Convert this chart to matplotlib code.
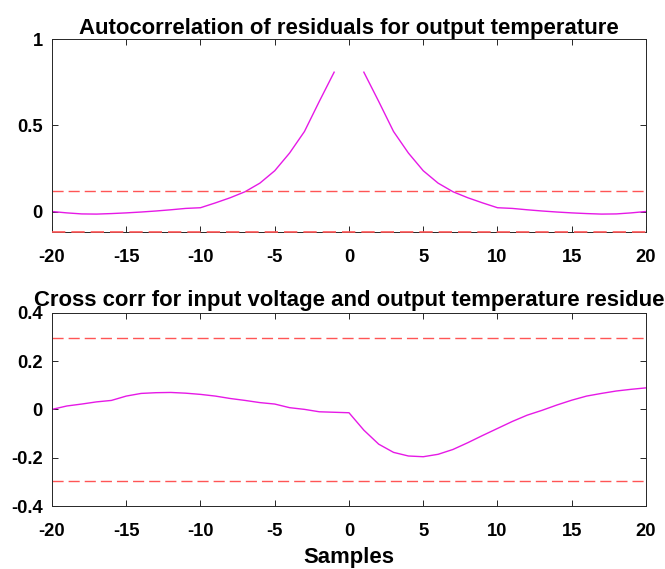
import numpy as np
import matplotlib
matplotlib.use("Agg")
import matplotlib.pyplot as plt

plt.rcParams["font.family"] = ["Liberation Sans", "DejaVu Sans"]
plt.rcParams["font.weight"] = "bold"
plt.rcParams["axes.unicode_minus"] = False

# lags -20..20
lags = np.arange(-20, 21)

# autocorrelation of residuals, lags 1..20 (symmetric, lag 0 not drawn)
acf_pos = [0.81, 0.64, 0.465, 0.34, 0.237, 0.165, 0.115, 0.08, 0.05, 0.022,
           0.018, 0.01, 0.003, -0.003, -0.008, -0.012, -0.015, -0.014, -0.008, 0.0]
acf = np.array(acf_pos[::-1] + [np.nan] + acf_pos)
acf_conf = 0.119

# cross correlation input voltage / output residue, lags -20..20
ccf = [0.0, 0.014, 0.022, 0.031, 0.037, 0.055, 0.066, 0.069, 0.070, 0.067,
       0.062, 0.055, 0.045, 0.037, 0.028, 0.022, 0.007, 0.0, -0.01, -0.012,
       -0.014, -0.086, -0.144, -0.178, -0.193, -0.196, -0.186, -0.166, -0.138, -0.108,
       -0.079, -0.05, -0.024, -0.004, 0.018, 0.038, 0.055, 0.066, 0.076, 0.083,
       0.089]
ccf_conf = 0.297

fig = plt.figure(figsize=(6.65, 5.69), dpi=100)
ax1 = fig.add_axes([0.0782, 0.5923, 0.8932, 0.3383])
ax2 = fig.add_axes([0.0782, 0.1107, 0.8932, 0.3397])

line_col = "#e619e6"
conf_col = "#ff5555"
dash = (0, (8, 3.6))

ax1.plot(lags, acf, color=line_col, lw=1.0)
ax1.axhline(acf_conf, color=conf_col, ls=dash, lw=1.0)
ax1.axhline(-acf_conf, color=conf_col, ls=dash, lw=1.2, clip_on=False, zorder=3)
ax1.set_ylim(-acf_conf, 1)
ax1.set_yticks([0, 0.5, 1])
ax1.set_yticklabels(["0", "0.5", "1"])
ax1.set_title("Autocorrelation of residuals for output temperature",
              fontsize=15.9, fontweight="bold", pad=4)

ax2.plot(lags, ccf, color=line_col, lw=1.0)
ax2.axhline(ccf_conf, color=conf_col, ls=dash, lw=1.0)
ax2.axhline(-ccf_conf, color=conf_col, ls=dash, lw=1.0)
ax2.set_ylim(-0.4, 0.4)
ax2.set_yticks([-0.4, -0.2, 0, 0.2, 0.4])
ax2.set_yticklabels(["-0.4", "-0.2", "0", "0.2", "0.4"])
ax2.set_title("Cross corr for input voltage and output temperature residue",
              fontsize=15.9, fontweight="bold", pad=5)
ax2.set_xlabel("Samples", fontsize=15.9, fontweight="bold", labelpad=5)

for ax in (ax1, ax2):
    ax.set_xlim(-20, 20)
    ax.set_xticks(range(-20, 21, 5))
    ax.tick_params(direction="in", top=True, right=True, length=4,
                   width=0.7, color="#262626", labelsize=13.2)
    ax.tick_params(axis="x", pad=12.5)
    ax.tick_params(axis="y", pad=6.5)
    for sp in ax.spines.values():
        sp.set_color("#262626")
        sp.set_linewidth(0.7)

fig.savefig("out.png", dpi=100)
